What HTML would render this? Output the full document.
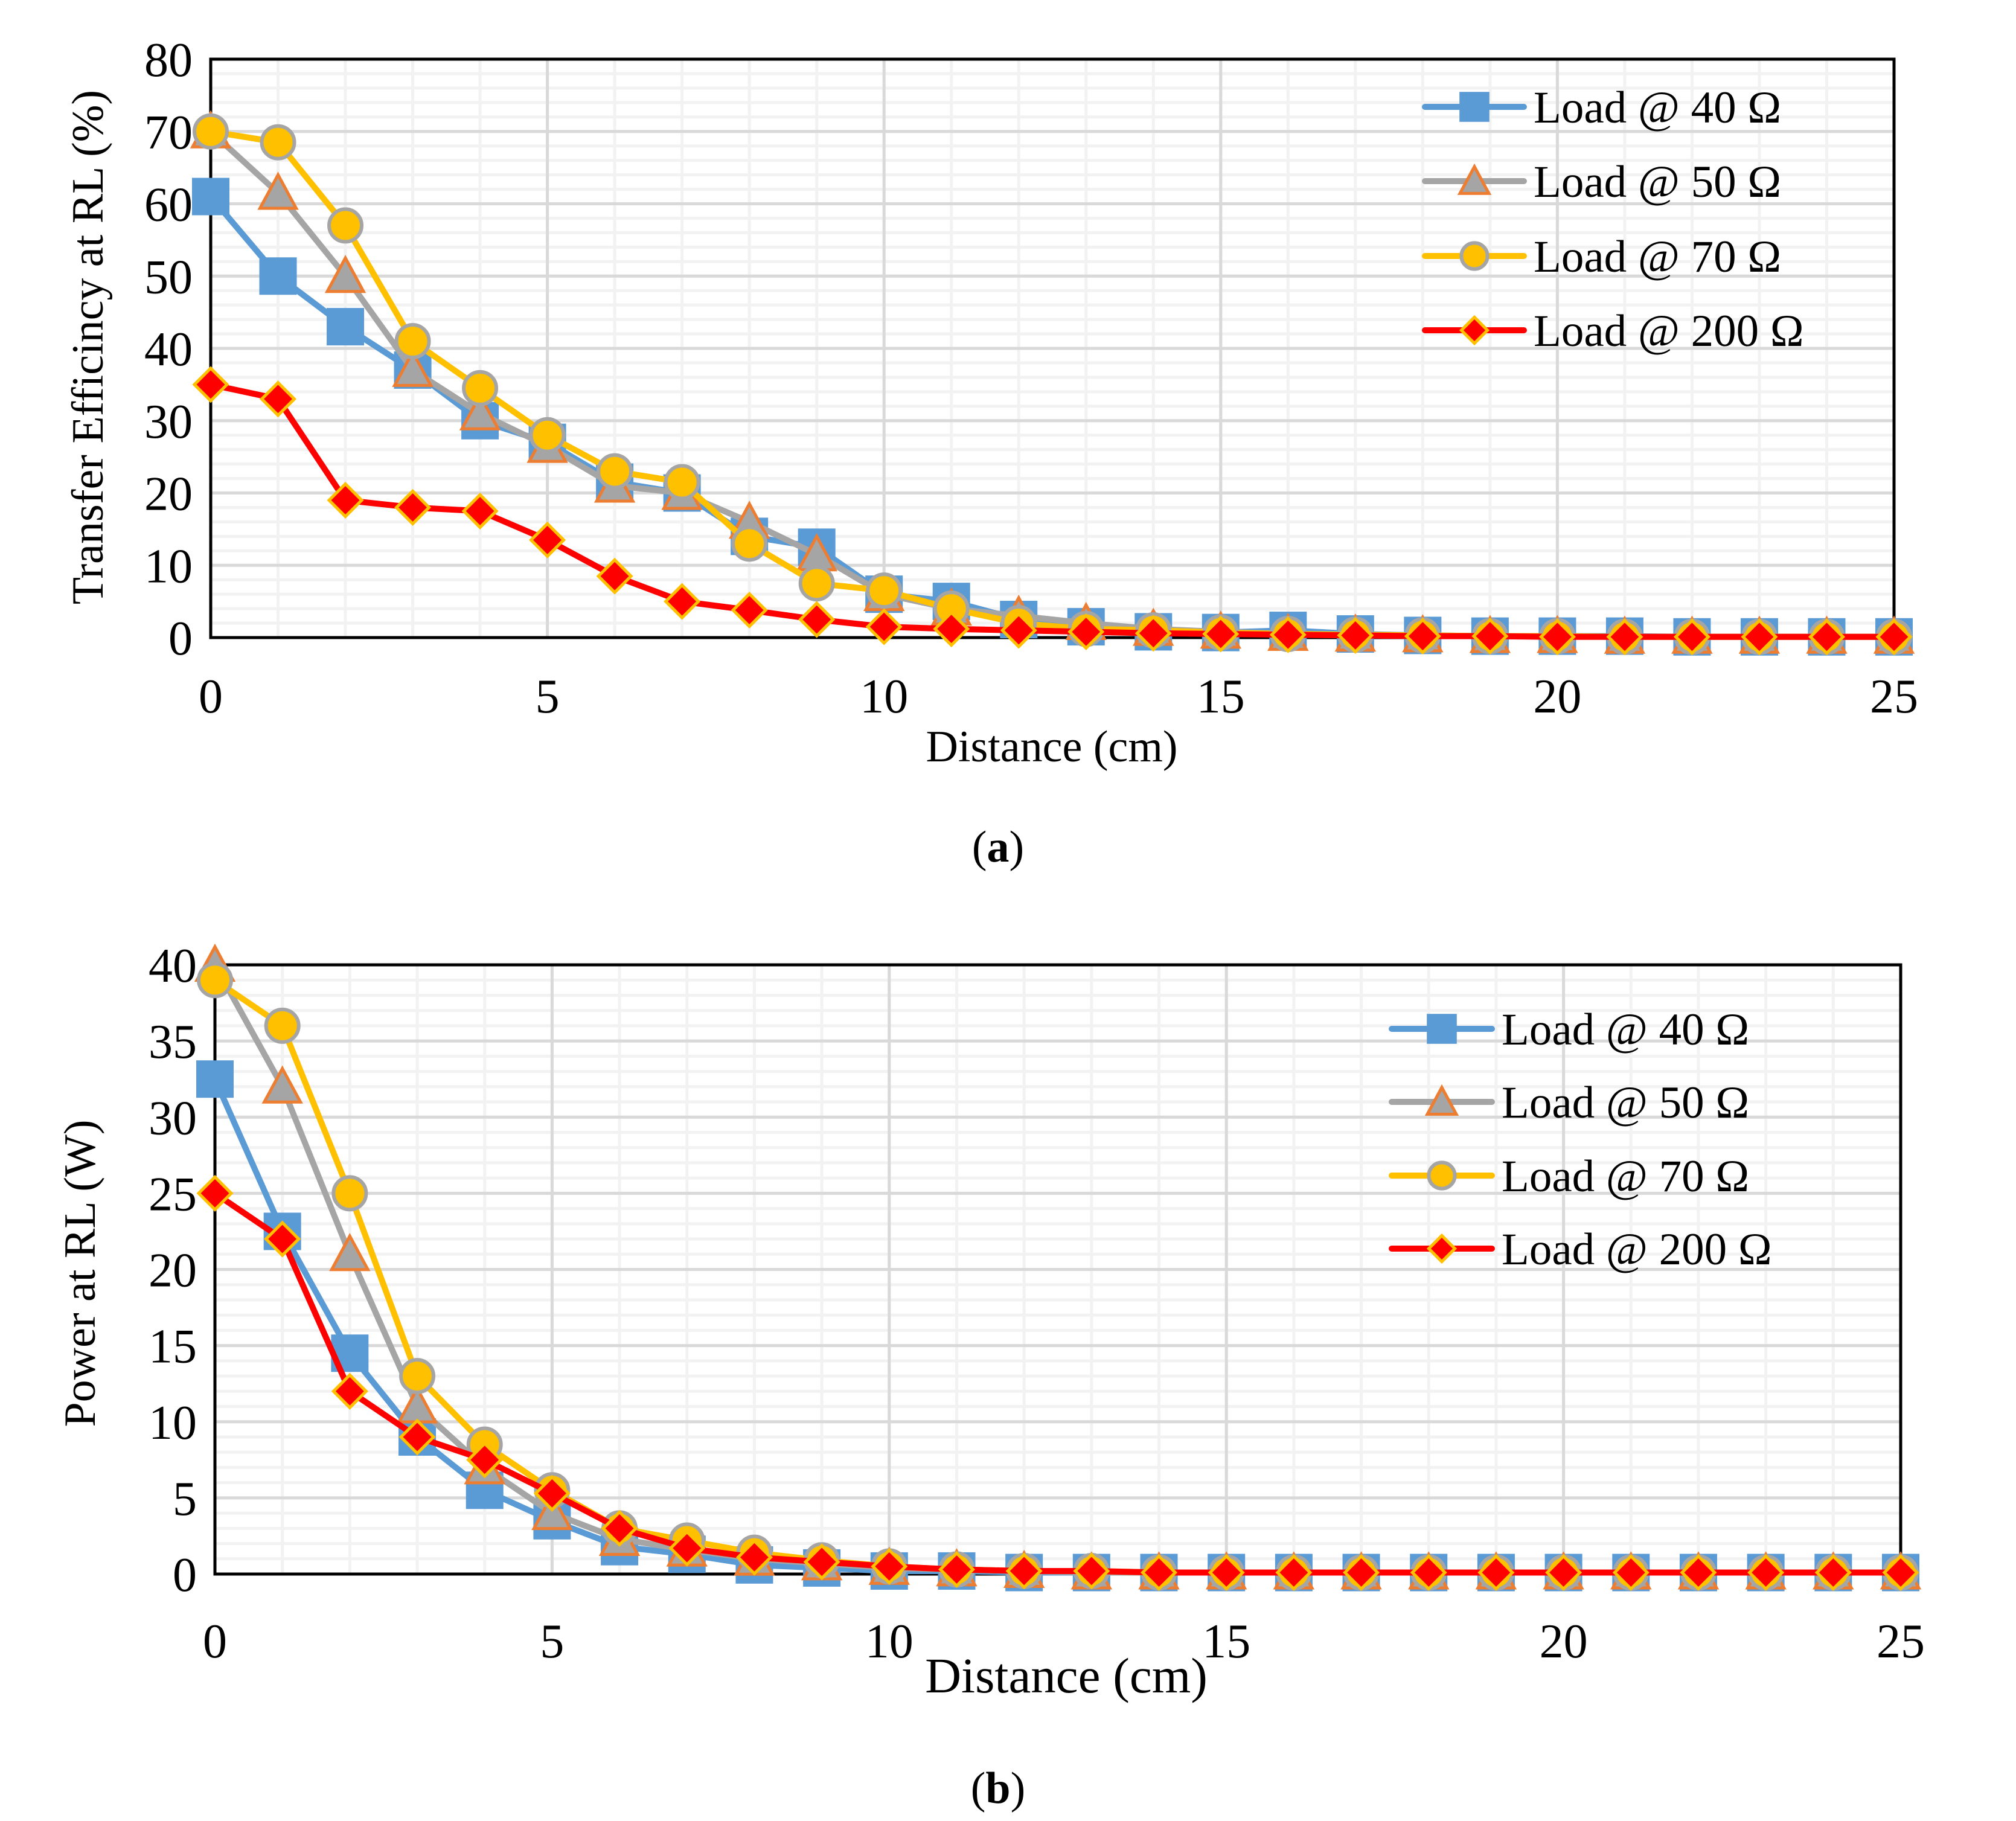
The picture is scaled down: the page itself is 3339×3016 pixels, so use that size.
<!DOCTYPE html>
<html><head><meta charset="utf-8"><style>
html,body{margin:0;padding:0;background:#fff;}
svg{display:block;}
text{font-family:"Liberation Serif",serif;fill:#000;}
</style></head><body>
<svg id="svg" width="3339" height="3016" viewBox="0 0 3339 3016" xmlns="http://www.w3.org/2000/svg"></svg>
<script>
const xs = [0,1,2,3,4,5,6,7,8,9,10,11,12,13,14,15,16,17,18,19,20,21,22,23,24,25];
const seriesNames = ["Load @ 40 Ω","Load @ 50 Ω","Load @ 70 Ω","Load @ 200 Ω"];
const effLoad40 = [61,50,43,37,30,27,21.5,20,14,12.5,6,5,2.5,1.5,0.8,0.7,1,0.5,0.3,0.2,0.2,0.2,0.1,0.1,0.1,0.1];
const effLoad50 = [70,61.5,50,37,31,26.5,21,20,16,11.5,6,4,3,2,1.2,0.8,0.5,0.4,0.3,0.2,0.2,0.1,0.1,0.1,0.1,0.1];
const effLoad70 = [70,68.5,57,41,34.5,28,23,21.5,13,7.5,6.5,4,2,1.2,1,0.7,0.5,0.4,0.3,0.2,0.2,0.1,0.1,0.1,0.1,0.1];
const effLoad200 = [35,33,19,18,17.5,13.5,8.5,5,3.8,2.5,1.5,1.2,1,0.8,0.6,0.5,0.4,0.3,0.2,0.2,0.1,0.1,0.1,0.1,0.1,0.1];
const powLoad40 = [32.5,22.5,14.5,9,5.5,3.5,1.8,1.3,0.6,0.4,0.2,0.2,0.1,0.1,0.1,0.1,0.1,0.1,0.1,0.1,0.1,0.1,0.1,0.1,0.1,0.1];
const powLoad50 = [40,32,21,11,7,4,2.3,1.6,1,0.7,0.4,0.3,0.2,0.1,0.1,0.1,0.1,0.1,0.1,0.1,0.1,0.1,0.1,0.1,0.1,0.1];
const powLoad70 = [39,36,25,13,8.5,5.5,3,2.2,1.4,0.9,0.5,0.3,0.2,0.2,0.1,0.1,0.1,0.1,0.1,0.1,0.1,0.1,0.1,0.1,0.1,0.1];
const powLoad200 = [25,22,12,9,7.5,5.3,3,1.7,1.1,0.8,0.5,0.3,0.2,0.2,0.1,0.1,0.1,0.1,0.1,0.1,0.1,0.1,0.1,0.1,0.1,0.1];
const xTicks = [0,5,10,15,20,25];
const effTicks = [0,10,20,30,40,50,60,70,80];
const powTicks = [0,5,10,15,20,25,30,35,40];

const NS="http://www.w3.org/2000/svg";
const svg=document.getElementById('svg');
function mk(tag,attrs,parent){const e=document.createElementNS(NS,tag);for(const k in attrs)e.setAttribute(k,attrs[k]);(parent||svg).appendChild(e);return e;}
const styles=[
 {line:'#5b9bd5',shape:'square',fill:'#5b9bd5',stroke:'#5b9bd5'},
 {line:'#a5a5a5',shape:'tri',fill:'#a5a5a5',stroke:'#ed7d31'},
 {line:'#ffc000',shape:'circle',fill:'#ffc000',stroke:'#a5a5a5'},
 {line:'#ff0000',shape:'diamond',fill:'#ff0000',stroke:'#ffc000'}];
function marker(g,shape,cx,cy,st,sc){
 let e;
 if(shape==='square'){e=mk('rect',{x:cx-31*sc,y:cy-31*sc,width:62*sc,height:62*sc,fill:st.fill},g);}
 else if(shape==='tri'){const h=30*sc;e=mk('polygon',{points:`${cx},${cy-h} ${cx+h},${cy+h*0.85} ${cx-h},${cy+h*0.85}`,fill:st.fill,stroke:st.stroke,'stroke-width':5},g);}
 else if(shape==='circle'){e=mk('circle',{cx:cx,cy:cy,r:27*sc,fill:st.fill,stroke:st.stroke,'stroke-width':6},g);}
 else {const h=27*sc;e=mk('polygon',{points:`${cx},${cy-h} ${cx+h},${cy} ${cx},${cy+h} ${cx-h},${cy}`,fill:st.fill,stroke:st.stroke,'stroke-width':5},g);}
 return e;
}
function chart(cfg){
 const g=mk('g',{});
 
 
 const X=v=>cfg.L+(v-0)/25*(cfg.R-cfg.L);
 const Y=v=>cfg.B-v/cfg.ymax*(cfg.B-cfg.T);
 for(let v=0;v<=cfg.ymax;v+=cfg.minorY){mk('line',{x1:cfg.L,x2:cfg.R,y1:Y(v),y2:Y(v),stroke:'#f2f2f2','stroke-width':5},g);}
 for(let v=0;v<=25;v+=1){mk('line',{x1:X(v),x2:X(v),y1:cfg.T,y2:cfg.B,stroke:'#f2f2f2','stroke-width':5},g);}
 cfg.yTicks.forEach(v=>{const l=mk('line',{x1:cfg.L,x2:cfg.R,y1:Y(v),y2:Y(v),stroke:'#d9d9d9','stroke-width':5},g);});
 xTicks.forEach(v=>{const l=mk('line',{x1:X(v),x2:X(v),y1:cfg.T,y2:cfg.B,stroke:'#d9d9d9','stroke-width':5},g);});
 const fr=mk('rect',{x:cfg.L,y:cfg.T,width:cfg.R-cfg.L,height:cfg.B-cfg.T,fill:'none',stroke:'#000','stroke-width':5},g);
 
 cfg.yTicks.forEach(v=>{const t=mk('text',{x:cfg.L-30,y:Y(v)+28,'text-anchor':'end','font-size':80},g);t.textContent=v;});
 xTicks.forEach(v=>{const t=mk('text',{x:X(v),y:cfg.xLabY,'text-anchor':'middle','font-size':80},g);t.textContent=v;});
 const xt=mk('text',{x:cfg.xTitleX,y:cfg.xTitleY,'text-anchor':'middle','font-size':cfg.xTitleSize},g);xt.textContent='Distance (cm)';
 
 const yt=mk('text',{x:0,y:0,'text-anchor':'middle','font-size':74,transform:`translate(${cfg.yTitleX},${cfg.yTitleY}) rotate(-90)`},g);yt.textContent=cfg.yTitle;
 
 cfg.data.forEach((arr,i)=>{
  const st=styles[i];
  const sg=mk('g',{},g);
  
  
  const pts=arr.map((v,j)=>X(xs[j])+','+Y(v)).join(' ');
  const pl=mk('polyline',{points:pts,fill:'none',stroke:st.line,'stroke-width':10,'stroke-linejoin':'round'},sg);
  
  arr.forEach((v,j)=>{const m=marker(sg,st.shape,X(xs[j]),Y(v),st,1);});
 });
 seriesNames.forEach((n,i)=>{
  const st=styles[i];const y=cfg.legY[i];
  const lg=mk('g',{},g);
  
  
  mk('line',{x1:cfg.legX1,x2:cfg.legX2,y1:y,y2:y,stroke:st.line,'stroke-width':10,'stroke-linecap':'round'},lg);
  marker(lg,st.shape,(cfg.legX1+cfg.legX2)/2,y,st,0.8);
  const t=mk('text',{x:cfg.legX2+16,y:y+26,'font-size':75},lg);t.textContent=n;
 });
 const cap=mk('text',{x:cfg.capX,y:cfg.capY,'text-anchor':'middle','font-size':74},g);
 cap.innerHTML='(<tspan font-weight="bold">'+cfg.cap+'</tspan>)';
 
}
chart({name:'efficiency-chart',L:349,R:3137,T:98,B:1056,ymax:80,minorY:2,yTicks:effTicks,
 data:[effLoad40,effLoad50,effLoad70,effLoad200],xLabY:1180,xTitleX:1742,xTitleY:1261,xTitleSize:74,
 yTitleX:170,yTitleY:575,yTitle:'Transfer Efficincy at RL (%)',legX1:2360,legX2:2524,legY:[177,300,424,547],
 capX:1653,capY:1427,cap:'a'});
chart({name:'power-chart',L:356,R:3148,T:1598,B:2607,ymax:40,minorY:1,yTicks:powTicks,
 data:[powLoad40,powLoad50,powLoad70,powLoad200],xLabY:2745,xTitleX:1766,xTitleY:2803,xTitleSize:83,
 yTitleX:157,yTitleY:2109,yTitle:'Power at RL (W)',legX1:2305,legX2:2471,legY:[1704,1825,1947,2068],
 capX:1653,capY:2986,cap:'b'});
</script>
</body></html>
